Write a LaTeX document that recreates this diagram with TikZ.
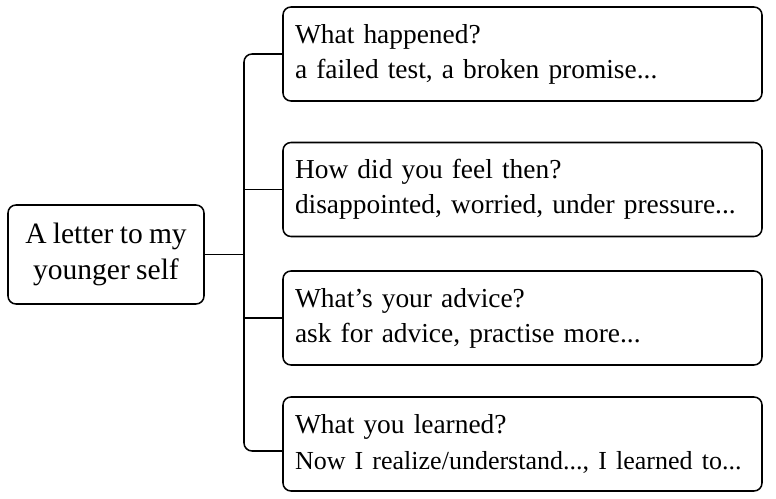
\documentclass[tikz,border=0pt]{standalone}
\usepackage{fontspec}
\setmainfont{Liberation Serif}[WordSpace=0.85]
\usetikzlibrary{positioning}

\begin{document}
\begin{tikzpicture}[
  box/.style={draw, rounded corners=0.2cm, line width=1.1pt, font=\fontsize{19.5}{25}\selectfont},
  topic/.style={box, minimum width=4.9cm, minimum height=2.475cm, align=center, font=\fontsize{21}{25.5}\selectfont},
  question/.style={box, minimum height=2.35cm, text width=11.375cm, align=left, inner xsep=0.3cm},
  link/.style={line width=1.1pt}
]
\useasboundingbox (0,0) rectangle (19.4,12.475);

%topic box
\node[topic] (self) at (2.65,6.1125) {A letter to my\\younger self};

%question boxes
\node[question] (happened) at (13.0625,11.125) {What happened?\\a failed test, a broken promise...};
\node[question] (feel) at (13.0625,7.7375) {How did you feel then?\\disappointed, worried, under pressure...};
\node[question] (advice) at (13.0625,4.525) {What's your advice?\\ask for advice, practise more...};
\node[question] (learned) at (13.0625,1.375) {What you learned?\\\mbox{\fontsize{18.5}{25}\selectfont Now I realize/understand..., I learned to...}};

%connectors
\coordinate (fork) at (6.1,6.1125);
\draw[link] (self.east) -- (fork);
\draw[link, rounded corners=0.2cm] (happened.west) -| (fork) |- ([yshift=-0.175cm]learned.west);
\draw[link] (fork |- feel.west) -- (feel.west);
\draw[link] (fork |- advice.west) -- (advice.west);

\end{tikzpicture}
\end{document}
